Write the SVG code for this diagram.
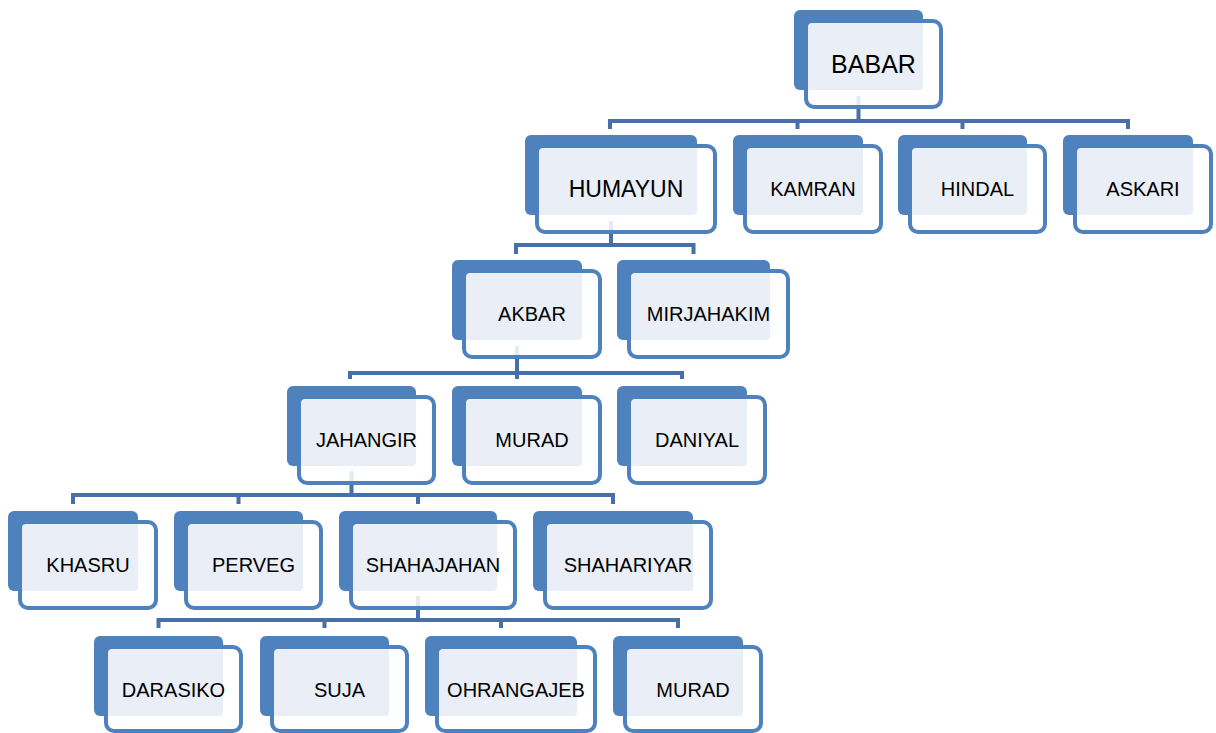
<svg xmlns="http://www.w3.org/2000/svg" width="1216" height="733" viewBox="0 0 1216 733">
<style>
.bk{fill:#4f81bd}
.fr{fill:#ffffff;fill-opacity:0.85;stroke:#4f81bd;stroke-width:4}
.lt{fill:#eaeff7}
.tx{font-family:"Liberation Sans",Arial,sans-serif;font-size:20px;fill:#000;text-anchor:middle}
.big{font-size:25px}
.mid{font-size:23px}
.cn{fill:none;stroke:#4870a8;stroke-width:4;stroke-linejoin:miter;stroke-linecap:butt}
</style>
<rect width="1216" height="733" fill="#ffffff"/>
<g id="connectors">
<path class="cn" d="M858.5 96V121M610 129V121H1128V129M797.5 121V129M962.5 121V129"/>
<path class="cn" d="M611 221V245M516 254V245H693.5V254"/>
<path class="cn" d="M517 346V379M350 379V373H682V379"/>
<path class="cn" d="M351.5 471V495M73 504V495H613V504M238.5 495V504M418 495V504"/>
<path class="cn" d="M418 596V620M158.5 628V620H678V628M324.5 620V628M501 620V628"/>
</g>
<g id="n-babar"><rect class="bk" x="794" y="10" width="129" height="80" rx="6"/><rect class="fr" x="806" y="21" width="135" height="86" rx="8"/><rect class="lt" x="808" y="23" width="115" height="67" rx="4"/><text class="tx big" x="873.5" y="73">BABAR</text></g>
<g id="n-humayun"><rect class="bk" x="525" y="135" width="172" height="80" rx="6"/><rect class="fr" x="537" y="146" width="178" height="86" rx="8"/><rect class="lt" x="539" y="148" width="158" height="67" rx="4"/><text class="tx mid" x="626" y="197">HUMAYUN</text></g>
<g id="n-kamran"><rect class="bk" x="733" y="135" width="130" height="80" rx="6"/><rect class="fr" x="745" y="146" width="136" height="86" rx="8"/><rect class="lt" x="747" y="148" width="116" height="67" rx="4"/><text class="tx" x="813" y="196">KAMRAN</text></g>
<g id="n-hindal"><rect class="bk" x="898" y="135" width="129" height="80" rx="6"/><rect class="fr" x="910" y="146" width="135" height="86" rx="8"/><rect class="lt" x="912" y="148" width="115" height="67" rx="4"/><text class="tx" x="977.5" y="196">HINDAL</text></g>
<g id="n-askari"><rect class="bk" x="1063" y="135" width="130" height="80" rx="6"/><rect class="fr" x="1075" y="146" width="136" height="86" rx="8"/><rect class="lt" x="1077" y="148" width="116" height="67" rx="4"/><text class="tx" x="1143" y="196">ASKARI</text></g>
<g id="n-akbar"><rect class="bk" x="452" y="260" width="130" height="80" rx="6"/><rect class="fr" x="464" y="271" width="136" height="86" rx="8"/><rect class="lt" x="466" y="273" width="116" height="67" rx="4"/><text class="tx" x="532" y="321">AKBAR</text></g>
<g id="n-mirjahakim"><rect class="bk" x="617" y="260" width="153" height="80" rx="6"/><rect class="fr" x="629" y="271" width="159" height="86" rx="8"/><rect class="lt" x="631" y="273" width="139" height="67" rx="4"/><text class="tx" x="708.5" y="321">MIRJAHAKIM</text></g>
<g id="n-jahangir"><rect class="bk" x="287" y="386" width="129" height="80" rx="6"/><rect class="fr" x="299" y="397" width="135" height="86" rx="8"/><rect class="lt" x="301" y="399" width="115" height="67" rx="4"/><text class="tx" x="366.5" y="447">JAHANGIR</text></g>
<g id="n-murad1"><rect class="bk" x="452" y="386" width="130" height="80" rx="6"/><rect class="fr" x="464" y="397" width="136" height="86" rx="8"/><rect class="lt" x="466" y="399" width="116" height="67" rx="4"/><text class="tx" x="532" y="447">MURAD</text></g>
<g id="n-daniyal"><rect class="bk" x="617" y="386" width="130" height="80" rx="6"/><rect class="fr" x="629" y="397" width="136" height="86" rx="8"/><rect class="lt" x="631" y="399" width="116" height="67" rx="4"/><text class="tx" x="697" y="447">DANIYAL</text></g>
<g id="n-khasru"><rect class="bk" x="8" y="511" width="130" height="80" rx="6"/><rect class="fr" x="20" y="522" width="136" height="86" rx="8"/><rect class="lt" x="22" y="524" width="116" height="67" rx="4"/><text class="tx" x="88" y="572">KHASRU</text></g>
<g id="n-perveg"><rect class="bk" x="174" y="511" width="129" height="80" rx="6"/><rect class="fr" x="186" y="522" width="135" height="86" rx="8"/><rect class="lt" x="188" y="524" width="115" height="67" rx="4"/><text class="tx" x="253.5" y="572">PERVEG</text></g>
<g id="n-shahajahan"><rect class="bk" x="339" y="511" width="158" height="80" rx="6"/><rect class="fr" x="351" y="522" width="164" height="86" rx="8"/><rect class="lt" x="353" y="524" width="144" height="67" rx="4"/><text class="tx" x="433" y="572">SHAHAJAHAN</text></g>
<g id="n-shahariyar"><rect class="bk" x="533" y="511" width="160" height="80" rx="6"/><rect class="fr" x="545" y="522" width="166" height="86" rx="8"/><rect class="lt" x="547" y="524" width="146" height="67" rx="4"/><text class="tx" x="628" y="572">SHAHARIYAR</text></g>
<g id="n-darasiko"><rect class="bk" x="94" y="636" width="129" height="80" rx="6"/><rect class="fr" x="106" y="647" width="135" height="84" rx="8"/><rect class="lt" x="108" y="649" width="115" height="67" rx="4"/><text class="tx" x="173.5" y="697">DARASIKO</text></g>
<g id="n-suja"><rect class="bk" x="260" y="636" width="129" height="80" rx="6"/><rect class="fr" x="272" y="647" width="135" height="84" rx="8"/><rect class="lt" x="274" y="649" width="115" height="67" rx="4"/><text class="tx" x="339.5" y="697">SUJA</text></g>
<g id="n-ohrangajeb"><rect class="bk" x="425" y="636" width="152" height="80" rx="6"/><rect class="fr" x="437" y="647" width="158" height="84" rx="8"/><rect class="lt" x="439" y="649" width="138" height="67" rx="4"/><text class="tx" x="516" y="697">OHRANGAJEB</text></g>
<g id="n-murad2"><rect class="bk" x="613" y="636" width="130" height="80" rx="6"/><rect class="fr" x="625" y="647" width="136" height="84" rx="8"/><rect class="lt" x="627" y="649" width="116" height="67" rx="4"/><text class="tx" x="693" y="697">MURAD</text></g>
</svg>
